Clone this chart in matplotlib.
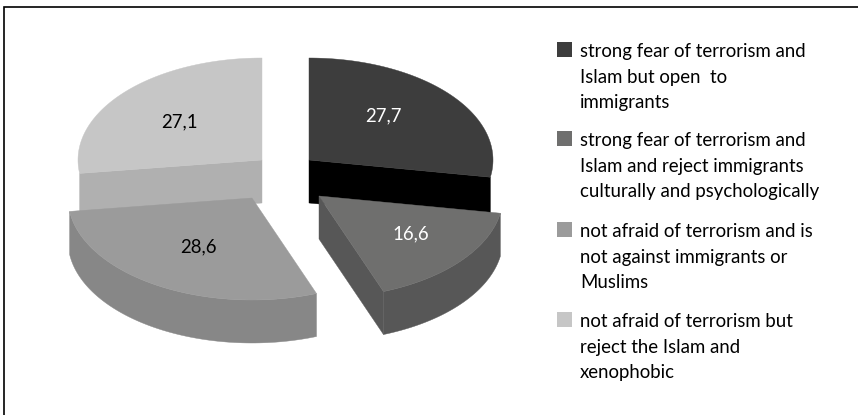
import numpy as np
import matplotlib
matplotlib.use('Agg')
import matplotlib.pyplot as plt
from matplotlib.patches import Polygon, Rectangle

# datos del grafico
valores = [27.7, 16.6, 28.6, 27.1]
etiquetas = ['27,7', '16,6', '28,6', '27,1']
leyenda = [
    'strong fear of terrorism and\nIslam but open  to\nimmigrants',
    'strong fear of terrorism and\nIslam and reject immigrants\nculturally and psychologically',
    'not afraid of terrorism and is\nnot against immigrants or\nMuslims',
    'not afraid of terrorism but\nreject the Islam and\nxenophobic',
]

# colores: cara superior, pared exterior, cara de corte
c_arriba = ['#3d3d3d', '#6f6f6e', '#9b9b9b', '#c6c6c6']
c_pared = ['#000000', '#575757', '#878787', '#b0b0b0']
c_texto = ['white', 'white', 'black', 'black']

# layout en pixeles
centros = [(309, 160), (319, 196), (252, 198), (262, 160)]
rx, ry, alto = 184, 102, 43
pos_ley = [42, 131, 222, 312]
pos_val = [(383, 116), (411, 234), (198, 247), (179, 122)]

plt.rcParams['font.family'] = ['Lato', 'DejaVu Sans']

fig = plt.figure(figsize=(8.58, 4.15), dpi=100)
ax = fig.add_axes([0, 0, 1, 1])
ax.set_xlim(0, 858)
ax.set_ylim(415, 0)
ax.axis('off')

# solo se ven los bordes de arriba y de la izquierda
ax.plot([4, 4, 858], [415, 7, 7], color='black', lw=1.2, solid_joinstyle='miter')

# angulos a partir de los valores, empezando arriba en sentido horario
fin = 90 - np.cumsum(valores) * 3.6
ini = np.r_[90, fin[:-1]]


def punto(c, ang):
    a = np.radians(ang)
    return np.column_stack([c[0] + rx * np.cos(a), c[1] - ry * np.sin(a)])


def pared_radial(c, ang, col):
    p = punto(c, [ang])[0]
    ax.add_patch(Polygon([c, p, (p[0], p[1] + alto), (c[0], c[1] + alto)], fc=col, ec=col, lw=0.3))


def dibujar(i):
    c = centros[i]
    arco = punto(c, np.linspace(ini[i], fin[i], 80))
    # caras de corte visibles
    if i == 0:
        pared_radial(c, fin[i], c_pared[i])
    if i == 3:
        pared_radial(c, ini[i], c_pared[i])
    if i == 1:
        pared_radial(c, fin[i], c_pared[i])
    # pared exterior de las porciones de abajo
    if i in (1, 2):
        abajo = arco + [0, alto]
        ax.add_patch(Polygon(np.vstack([arco, abajo[::-1]]), fc=c_pared[i], ec=c_pared[i], lw=0.3))
    ax.add_patch(Polygon(np.vstack([[c], arco]), fc=c_arriba[i], ec=c_arriba[i], lw=0.3))


for i in [0, 3, 2, 1]:
    dibujar(i)

for (x, y), e, col in zip(pos_val, etiquetas, c_texto):
    ax.text(x, y, e, color=col, fontsize=13.4, ha='center', va='center')

for y, txt, col in zip(pos_ley, leyenda, c_arriba):
    ax.add_patch(Rectangle((557, y), 15, 15, fc=col, ec='none'))
    ax.text(580, y + 1, txt, fontsize=13.4, va='top', ha='left', linespacing=1.62, color='black')

fig.savefig('out.png', dpi=100)
